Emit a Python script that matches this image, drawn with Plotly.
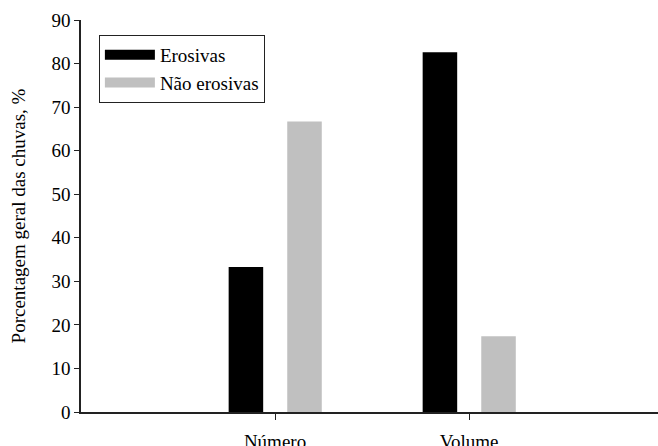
import plotly.graph_objects as go

categories = ["Número", "Volume"]
erosivas = [33.3, 82.6]
nao_erosivas = [66.7, 17.4]
series_names = ["Erosivas", "Não erosivas"]
y_ticks = [0, 10, 20, 30, 40, 50, 60, 70, 80, 90]

BLACK = "#000000"
GRAY = "#c0c0c0"
FONT = "Liberation Serif, Times New Roman, serif"

fig = go.Figure()
fig.add_trace(go.Bar(x=categories, y=erosivas, name=series_names[0],
                     marker=dict(color=BLACK, line=dict(width=0)),
                     width=0.178, offset=-0.239, showlegend=False))
fig.add_trace(go.Bar(x=categories, y=nao_erosivas, name=series_names[1],
                     marker=dict(color=GRAY, line=dict(width=0)),
                     width=0.178, offset=0.063, showlegend=False))
# legend entries drawn as wide swatches
for nm, col in zip(series_names, [BLACK, GRAY]):
    fig.add_trace(go.Scatter(x=[None], y=[None], mode="lines", name=nm,
                             line=dict(color=col, width=11), showlegend=True))

fig.update_layout(
    width=658, height=446,
    margin=dict(l=81, r=0, t=20, b=34, autoexpand=False),
    paper_bgcolor="white", plot_bgcolor="white",
    font=dict(family=FONT, size=19, color="black"),
    barmode="overlay",
    showlegend=True,
    legend=dict(x=0.031, y=0.962, xanchor="left", yanchor="top",
                bgcolor="white", bordercolor="#222", borderwidth=1,
                font=dict(family=FONT, size=19, color="black"),
                itemwidth=50, tracegroupgap=0),
)
fig.update_xaxes(
    type="category", range=[-1, 1.974], automargin=False,
    showline=True, linecolor="#222", linewidth=1.5,
    ticks="outside", ticklen=6, tickcolor="#222", tickwidth=1,
    showgrid=False, zeroline=False, ticklabelstandoff=5,
)
fig.update_yaxes(
    range=[0, 90], tickvals=y_ticks, automargin=False,
    showline=True, linecolor="#222", linewidth=1.5,
    ticks="outside", ticklen=5, tickcolor="#222", tickwidth=1,
    showgrid=False, zeroline=False,
    title=dict(text="Porcentagem geral das chuvas, %", standoff=21,
               font=dict(family=FONT, size=19)),
)

fig.write_html("out.html", config={"displayModeBar": False},
               post_script="document.body.style.margin='0';document.body.style.overflow='hidden';")
